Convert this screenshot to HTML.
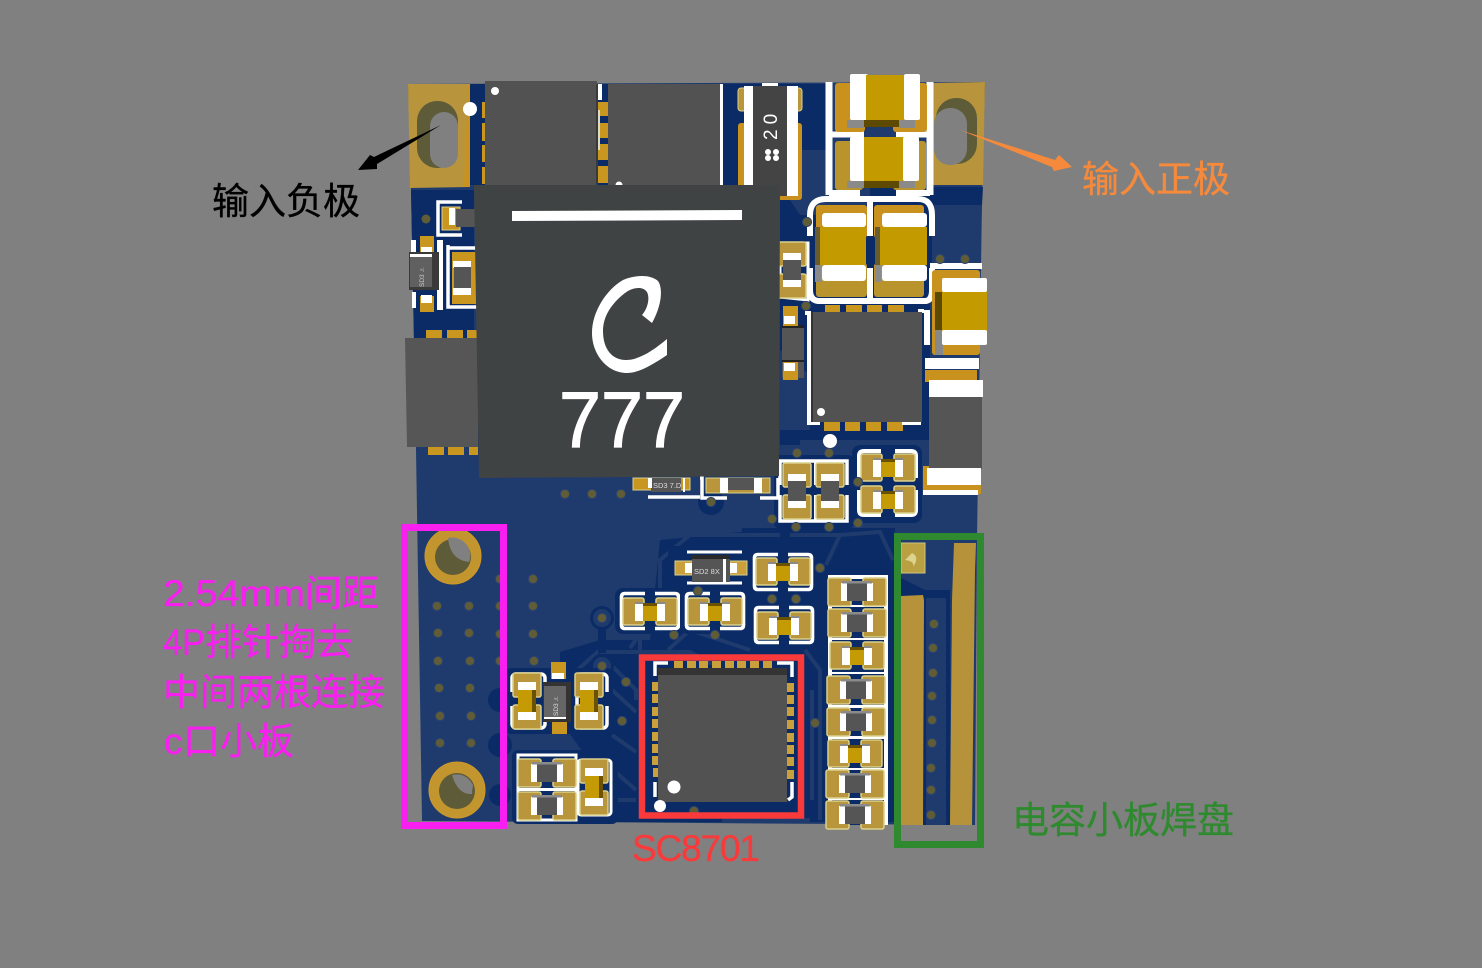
<!DOCTYPE html>
<html><head><meta charset="utf-8"><title>PCB</title>
<style>html,body{margin:0;padding:0;background:#808080}svg{display:block}
.t{font-family:"Liberation Sans","Noto Sans CJK SC",sans-serif;font-size:37px;stroke-width:.35px}</style></head>
<body>
<svg width="1482" height="968" viewBox="0 0 1482 968" xmlns="http://www.w3.org/2000/svg">
<defs>
<g id="rh"><rect x="-29" y="-14" width="23" height="28" rx="2" fill="#b9963c" stroke="#d9d08c" stroke-width="1.5"/><rect x="6" y="-14" width="23" height="28" rx="2" fill="#b9963c" stroke="#d9d08c" stroke-width="1.5"/><rect x="-16" y="-9" width="6" height="18" fill="#fff"/><rect x="10" y="-9" width="6" height="18" fill="#fff"/><rect x="-10" y="-9" width="20" height="18" fill="#555"/><rect x="-15" y="-11" width="30" height="2.5" fill="#8a8a8a"/></g>
<g id="ch"><rect x="-27" y="-14" width="21" height="27" rx="2" fill="#b9963c" stroke="#d9d08c" stroke-width="1.5"/><rect x="6" y="-14" width="21" height="27" rx="2" fill="#b9963c" stroke="#d9d08c" stroke-width="1.5"/><rect x="-15" y="-8" width="8" height="17" fill="#fff"/><rect x="7" y="-8" width="8" height="17" fill="#fff"/><rect x="-15" y="-10" width="8" height="2" fill="#8a8a8a"/><rect x="7" y="-10" width="8" height="2" fill="#8a8a8a"/><rect x="-7" y="-9" width="14" height="18" fill="#c49a05"/><rect x="-7" y="-9" width="14" height="3" fill="#6b5200"/></g>
<g id="cv"><rect x="-14" y="-28" width="28" height="24" rx="2" fill="#b9963c" stroke="#d9d08c" stroke-width="1.5"/><rect x="-14" y="4" width="28" height="24" rx="2" fill="#b9963c" stroke="#d9d08c" stroke-width="1.5"/><rect x="-9" y="-19" width="18" height="8" fill="#fff"/><rect x="-9" y="11" width="18" height="8" fill="#fff"/><rect x="-9" y="-11" width="18" height="22" fill="#c49a05"/><rect x="5" y="-11" width="4" height="22" fill="#6b5200"/></g>
<g id="rv"><rect x="-14" y="-28" width="28" height="24" rx="2" fill="#b9963c" stroke="#d9d08c" stroke-width="1.5"/><rect x="-14" y="4" width="28" height="24" rx="2" fill="#b9963c" stroke="#d9d08c" stroke-width="1.5"/><rect x="-9" y="-17" width="18" height="7" fill="#fff"/><rect x="-9" y="10" width="18" height="7" fill="#fff"/><rect x="-9" y="-10" width="18" height="20" fill="#555"/></g>
<!-- bracket outline for small horizontal caps -->
<g id="ol"><rect x="-35" y="-23" width="70" height="46" rx="8" fill="#0b2b66"/><path d="M-5,-17.5 H-25 Q-28.5,-17.5 -28.5,-14 V14 Q-28.5,17.5 -25,17.5 H-5 M5,-17.5 H25 Q28.5,-17.5 28.5,-14 V14 Q28.5,17.5 25,17.5 H5" fill="none" stroke="#fff" stroke-width="3.6"/></g>
<circle id="v" r="4.6" fill="#5f5c36" stroke="#2b4373" stroke-width="1"/>
</defs>
<rect width="1482" height="968" fill="#808080"/>

<!-- board -->
<polygon points="408,84 985,82 982,200 977,540 975,825 422,821 416,450 411,190" fill="#1f3b6d"/>
<!-- darker copper gaps -->
<g fill="#0b2b66">
<polygon points="470,84 830,84 830,150 800,150 800,185 470,185"/>
<polygon points="780,185 932,185 932,300 780,300"/>
<polygon points="932,187 983,187 982,205 932,205"/>
<polygon points="780,300 930,300 930,445 780,445"/>
<polygon points="411,190 474,190 474,340 414,340"/>
<polygon points="560,652 600,640 760,640 826,640 826,822 610,822 610,790 560,720"/>
<polygon points="742,528 895,528 895,822 820,822 820,640 742,640"/>
<polygon points="660,540 780,528 780,560 750,640 650,640"/>
<polygon points="895,575 925,590 950,585 950,825 895,825"/>
<polygon points="925,533 975,533 975,590 925,590" fill="#1f3b6d"/>
</g>
<polygon points="780,185 870,185 870,215 800,215" fill="#1f3b6d"/>
<polygon points="932,205 982,205 980,255 932,255" fill="#1f3b6d"/>
<polygon points="780,350 810,375 810,430 780,430" fill="#1f3b6d"/>
<polygon points="800,440 940,440 930,470 800,470" fill="#1f3b6d"/>
<rect x="926" y="598" width="20" height="227" fill="#1f3b6d"/>
<!-- light traces in the dark areas -->
<g fill="none" stroke="#1f3b6d" stroke-width="4">
<path d="M600,652 H690 L712,664 M575,672 L600,650 M610,664 L636,690 V700 M612,690 L636,712 M612,735 L636,752 M596,755 L636,790"/>
<path d="M640,650 V640 L660,620 V560 L690,535 H780 M630,648 L650,620 M668,650 L690,630 L750,650"/>
<path d="M805,650 L820,670 V820 M812,690 V800 M722,820 H810 M600,800 H636"/>
<path d="M840,535 L880,532 L893,560 M790,535 H840 L826,565"/>
</g>
<g fill="#0b2b66"><circle cx="602" cy="618" r="12"/><circle cx="602" cy="666" r="12"/><circle cx="711" cy="502" r="13"/><rect x="598" y="625" width="8" height="28"/><circle cx="500" cy="700" r="12"/><circle cx="500" cy="745" r="12"/><circle cx="500" cy="795" r="11"/></g>
<circle cx="602" cy="618" r="9" fill="#1f3b6d"/><circle cx="602" cy="666" r="9" fill="#1f3b6d"/>

<!-- top left pad -->
<polygon points="408,84 470,84 470,187 410,188" fill="#b8953c"/>
<path d="M468,84 H470 V187 H464 Z" fill="#c9921f"/>
<rect x="417" y="101" width="41" height="67" rx="20" fill="#5e5b38"/>
<rect x="430" y="112" width="28" height="56" rx="14" fill="#808080"/>
<circle cx="470" cy="109" r="7" fill="#fff"/>
<!-- top right pad -->
<polygon points="933,83 985,82 983,185 933,185" fill="#b8953c"/>
<rect x="936" y="98" width="41" height="66" rx="20" fill="#5e5b38"/>
<rect x="934" y="108" width="33" height="57" rx="16" fill="#808080"/>

<!-- chips A,B -->
<g fill="#c9961f"><rect x="482" y="102" width="4" height="16"/><rect x="482" y="123" width="4" height="18"/><rect x="482" y="145" width="4" height="17"/><rect x="482" y="167" width="4" height="17"/>
<rect x="598" y="102" width="10" height="14"/><rect x="598" y="123" width="10" height="15"/><rect x="598" y="144" width="10" height="16"/><rect x="598" y="166" width="10" height="17"/></g>
<rect x="598" y="84" width="4" height="16" fill="#fff"/><rect x="598" y="110" width="2" height="40" fill="#dcdcc0"/>
<rect x="485" y="81" width="112" height="104" fill="#525252"/>
<rect x="596" y="85" width="2" height="100" fill="#3a3a3a"/>
<circle cx="495" cy="91" r="4" fill="#fff"/>
<rect x="608" y="84" width="112" height="101" fill="#525252"/>
<rect x="720" y="84" width="3" height="101" fill="#fff"/>
<circle cx="619" cy="185" r="3.5" fill="#fff"/>

<!-- "20" part -->
<rect x="738" y="88" width="64" height="23" rx="3" fill="#b9963c" stroke="#d9d08c"/>
<rect x="738" y="123" width="64" height="77" rx="3" fill="#c9921f"/>
<rect x="744" y="86" width="9" height="100" fill="#fff"/>
<rect x="787" y="86" width="11" height="110" fill="#fff"/>
<rect x="762" y="83" width="16" height="4" fill="#fff"/>
<rect x="753" y="86" width="34" height="110" fill="#444"/>
<text transform="translate(777,140) rotate(-90)" font-family="Liberation Sans" font-size="19" fill="#fff" letter-spacing="5">20</text>
<circle cx="768" cy="152" r="3" fill="#fff"/><circle cx="776" cy="152" r="3" fill="#fff"/><circle cx="768" cy="158" r="3" fill="#fff"/><circle cx="776" cy="158" r="3" fill="#fff"/>

<!-- top caps -->
<path d="M829,82 V195 M930,82 V195" stroke="#fff" stroke-width="7" fill="none"/>
<path d="M829,134.500 H864 M896,134.500 H930 M829,193 H860 M896,193 H930" stroke="#fff" stroke-width="6" fill="none"/>
<g fill="#c9921f"><rect x="835" y="83" width="30" height="49" rx="3"/><rect x="893" y="83" width="34" height="49" rx="3"/></g>
<g fill="#b9932c"><rect x="835" y="141" width="28" height="49" rx="3"/><rect x="893" y="141" width="33" height="49" rx="3"/></g>
<rect x="864" y="120" width="36" height="7" fill="#5d4900"/>
<rect x="864" y="181" width="38" height="7" fill="#5d4900"/>
<g fill="#8a8a8a"><rect x="847" y="120" width="17" height="8"/><rect x="899" y="120" width="16" height="8"/><rect x="847" y="181" width="17" height="7"/><rect x="899" y="181" width="16" height="7"/></g>
<rect x="850" y="74" width="18" height="46" rx="2" fill="#fff"/><rect x="904" y="74" width="16" height="46" rx="2" fill="#fff"/><rect x="866" y="75" width="38" height="45" fill="#c39a00"/>
<rect x="850" y="137" width="16" height="44" rx="2" fill="#fff"/><rect x="903" y="137" width="16" height="44" rx="2" fill="#fff"/><rect x="864" y="137" width="39" height="44" fill="#c39a00"/>
<!-- middle caps -->
<path d="M810,236 V215 Q810,199 826,199 H918 Q932,199 932,215 V236" fill="none" stroke="#fff" stroke-width="6"/>
<path d="M810,268 V290 Q810,300 818,301 H926 Q932,300 932,290 V268 M870,200 V236 M870,268 V300" fill="none" stroke="#fff" stroke-width="6"/>
<g fill="#c9921f"><rect x="816" y="205" width="51" height="33" rx="3"/><rect x="874" y="205" width="50" height="33" rx="3"/></g>
<g fill="#b9932c"><rect x="816" y="263" width="51" height="34" rx="3"/><rect x="874" y="263" width="50" height="34" rx="3"/></g>
<rect x="819" y="227" width="47" height="38" fill="#c39a00"/><rect x="878" y="227" width="49" height="38" fill="#c39a00"/>
<rect x="815" y="227" width="5" height="55" fill="#665c30"/><rect x="875" y="227" width="5" height="55" fill="#665c30"/>
<rect x="815" y="265" width="6" height="17" fill="#8a8a8a"/><rect x="875" y="265" width="6" height="17" fill="#8a8a8a"/>
<rect x="822" y="213" width="44" height="14" rx="3" fill="#fff"/><rect x="822" y="265" width="44" height="16" rx="3" fill="#fff"/>
<rect x="882" y="213" width="45" height="14" rx="3" fill="#fff"/><rect x="882" y="265" width="45" height="16" rx="3" fill="#fff"/>
<!-- right cap -->
<rect x="930" y="263" width="52" height="6" fill="#fff"/>
<path d="M927,310 V345" stroke="#fff" stroke-width="6"/>
<rect x="932" y="270" width="48" height="85" rx="3" fill="#c9921f"/>
<rect x="935" y="292" width="8" height="38" fill="#5d4900"/><rect x="935" y="330" width="8" height="25" fill="#888"/>
<rect x="942" y="290" width="45" height="42" fill="#c39a00"/>
<rect x="942" y="278" width="45" height="14" rx="2" fill="#fff"/><rect x="942" y="330" width="45" height="15" rx="2" fill="#fff"/>
<rect x="925" y="358" width="54" height="11" fill="#fff"/>
<rect x="925" y="370" width="52" height="12" fill="#c9921f"/>
<!-- lower right chip -->
<rect x="923" y="466" width="58" height="28" fill="#c9921f"/><rect x="923" y="490" width="55" height="5" fill="#fff"/>
<rect x="929" y="380" width="54" height="17" fill="#fff"/>
<rect x="929" y="397" width="53" height="72" fill="#555"/>
<rect x="927" y="468" width="54" height="17" fill="#fff"/>

<!-- mid right chip -->
<g fill="#c9961f"><rect x="825" y="305" width="15" height="8"/><rect x="846" y="305" width="16" height="8"/><rect x="867" y="305" width="15" height="8"/><rect x="888" y="305" width="16" height="8"/><rect x="824" y="422" width="16" height="9"/><rect x="845" y="422" width="15" height="9"/><rect x="866" y="422" width="15" height="9"/><rect x="887" y="422" width="16" height="9"/></g>
<path d="M805,313 H809 V423 H820 M902,423 H921 M918,311 H924" fill="none" stroke="#fff" stroke-width="4"/>
<rect x="924" y="326" width="7" height="35" rx="3" fill="#fff" opacity="0"/>
<rect x="811" y="312" width="111" height="110" fill="#525252"/><rect x="811" y="312" width="2" height="110" fill="#333"/>
<circle cx="821" cy="412" r="4" fill="#fff"/>
<circle cx="830" cy="441" r="7" fill="#fff"/>
<!-- vertical part beside inductor -->
<path d="M780,297 V243 H808 V300 Z" fill="none" stroke="#fff" stroke-width="3"/>
<use href="#rv" x="792" y="270"/>
<rect x="782" y="326" width="22" height="52" fill="#555"/><rect x="782" y="325" width="22" height="3" fill="#222"/><rect x="782" y="360" width="22" height="2" fill="#222"/>
<rect x="783" y="306" width="15" height="20" fill="#c9961f"/><rect x="784" y="316" width="11" height="8" fill="#fff"/>
<rect x="783" y="362" width="15" height="18" fill="#c9961f"/><rect x="784" y="363" width="11" height="8" fill="#fff"/>

<!-- caps under inductor right -->
<rect x="774" y="455" width="80" height="74" fill="#0b2b66" rx="6"/>
<rect x="780" y="461" width="67" height="60" fill="none" stroke="#fff" stroke-width="3.5"/>
<rect x="814" y="461" width="3" height="60" fill="#fff"/>
<rect x="777" y="485" width="72" height="10" fill="#0b2b66"/>
<use href="#rv" x="797" y="491"/><use href="#rv" x="830" y="491"/>
<rect x="852" y="445" width="70" height="78" rx="8" fill="#0b2b66"/>
<path d="M859,478 V456 Q859,451 864,451 H881 M895,451 H911 Q916,451 916,456 V478 M859,490 V510 Q859,515 864,515 H881 M895,515 H911 Q916,515 916,510 V490" fill="none" stroke="#fff" stroke-width="4"/>
<use href="#ch" x="888" y="468"/>
<use href="#ch" x="888" y="500"/>
<path d="M700,478 H702 V498 H727 M760,498 H778 V478" fill="none" stroke="#fff" stroke-width="3.5"/>
<rect x="706" y="478" width="64" height="15" fill="#b9963c" stroke="#d9d08c"/>
<rect x="720" y="478" width="8" height="15" fill="#fff"/><rect x="728" y="478" width="26" height="12" fill="#555"/><rect x="754" y="478" width="8" height="15" fill="#fff"/>
<path d="M648,497 H700" stroke="#fff" stroke-width="3.5"/>
<rect x="633" y="478" width="57" height="12" fill="#c9961f" stroke="#d9d08c"/><rect x="651" y="478" width="30" height="14" fill="#555"/><rect x="683" y="478" width="2" height="14" fill="#fff"/><rect x="648" y="478" width="4" height="10" fill="#fff"/>
<text x="653" y="488" font-family="Liberation Sans" font-size="7.5" fill="#ddd">SD3 7.D</text>

<!-- left parts -->
<path d="M462,202 H438 V235 H462" fill="none" stroke="#fff" stroke-width="3.5"/>
<rect x="442" y="207" width="18" height="23" fill="#c9961f" stroke="#d9d08c"/><rect x="449" y="208" width="6" height="17" fill="#fff"/>
<rect x="456" y="209" width="20" height="18" fill="#555"/>
<circle cx="426" cy="219" r="4.5" fill="#5f5c36"/>
<rect x="420" y="236" width="14" height="16" fill="#c9961f"/>
<rect x="420" y="296" width="14" height="16" fill="#c9961f"/><rect x="421" y="295" width="11" height="8" fill="#fff"/>
<rect x="421" y="247" width="11" height="6" fill="#fff"/>
<rect x="411" y="240" width="5" height="18" fill="#fff"/><rect x="437" y="240" width="6" height="70" fill="#fff"/><rect x="412" y="292" width="4" height="16" fill="#fff"/>
<rect x="409" y="252" width="30" height="38" fill="#3a3a3a"/><rect x="410" y="257" width="22" height="30" fill="#606060"/><rect x="410" y="254" width="22" height="3" fill="#fff"/>
<text transform="translate(424,287) rotate(-90)" font-family="Liberation Sans" font-size="6.5" fill="#ccc">SD3 .r.</text>
<path d="M448,245 V307 H478 M448,248 H478" fill="none" stroke="#fff" stroke-width="3.5"/>
<rect x="452" y="252" width="24" height="52" fill="#c9961f"/>
<rect x="453" y="261" width="18" height="7" fill="#fff"/><rect x="453" y="288" width="18" height="7" fill="#fff"/><rect x="454" y="267" width="17" height="21" fill="#555"/>
<!-- left chip -->
<g fill="#c9961f"><rect x="426" y="330" width="16" height="9"/><rect x="447" y="330" width="16" height="9"/><rect x="467" y="330" width="11" height="9"/><rect x="428" y="447" width="16" height="8"/><rect x="448" y="447" width="16" height="8"/><rect x="469" y="447" width="9" height="8"/></g>
<polygon points="405,338 478,338 478,447 407,447" fill="#565656"/>

<!-- big inductor -->
<polygon points="474,185 780,185 779,476 479,478" fill="#404343"/>
<polygon points="512,211 742,210 742,220 512,221" fill="#fff"/>
<path d="M652,323 L642,315 C648,308 650,298 647,292 C643,286 633,287 625,293 C612,303 603,316 603,331 C603,349 612,360 626,360 C640,360 655,349 667,339 L667,355 C655,363 640,373 627,373 C607,373 592,354 592,333 C592,312 606,290 623,280 C635,275 650,274 658,281 C663,288 662,305 652,323 Z" fill="#fff"/>
<text x="559" y="447" textLength="126" lengthAdjust="spacingAndGlyphs" font-family="Liberation Sans" font-size="79" fill="#fff" stroke="#fff" stroke-width="1.2">777</text>

<!-- header holes -->
<circle cx="453" cy="556" r="28" fill="#c2952f" stroke="#d09a28"/>
<circle cx="453" cy="557" r="18" fill="#5e5b38"/>
<path d="M448,538 A18,18 0 0 1 469,562 Q450,560 448,538 Z" fill="#808080"/>
<circle cx="457" cy="790" r="28" fill="#c2952f" stroke="#d09a28"/>
<circle cx="457" cy="791" r="18" fill="#5e5b38"/>
<path d="M452,775 Q466,772 473,785 Q472,790 472,794 Q458,795 452,775 Z" fill="#808080"/>

<!-- mid parts -->
<rect x="505" y="668" width="108" height="66" rx="6" fill="#0b2b66"/>
<rect x="512" y="674" width="33" height="54" rx="4" fill="none" stroke="#fff" stroke-width="3.5"/>
<rect x="577" y="674" width="30" height="54" rx="4" fill="none" stroke="#fff" stroke-width="3.5"/>
<rect x="508" y="692" width="8" height="14" fill="#0b2b66"/><rect x="603" y="692" width="8" height="14" fill="#0b2b66"/>
<use href="#cv" x="527" y="701"/><use href="#cv" x="589" y="701"/>
<rect x="551" y="662" width="15" height="17" fill="#c9961f"/><rect x="552" y="673" width="12" height="6" fill="#fff"/>
<rect x="552" y="722" width="15" height="12" fill="#c9961f"/>
<rect x="543" y="682" width="28" height="40" fill="#333"/><rect x="544" y="686" width="22" height="32" fill="#666"/><rect x="544" y="717" width="22" height="2" fill="#fff"/>
<text transform="translate(558,716) rotate(-90)" font-family="Liberation Sans" font-size="6.5" fill="#ddd">SD3 .r.</text>
<rect x="512" y="750" width="106" height="74" rx="6" fill="#0b2b66"/>
<rect x="518" y="755" width="58" height="65" fill="none" stroke="#fff" stroke-width="3"/><rect x="519" y="788" width="56" height="3" fill="#fff"/>
<rect x="578" y="760" width="33" height="55" rx="3" fill="none" stroke="#fff" stroke-width="3"/>
<use href="#rh" x="547" y="773"/><use href="#rh" x="547" y="806"/><use href="#cv" x="594" y="787"/>
<!-- diode -->
<rect x="668" y="546" width="86" height="44" rx="6" fill="#0b2b66"/>
<path d="M687,552 H742 M687,583 H742" stroke="#fff" stroke-width="3"/>
<rect x="675" y="561" width="17" height="14" fill="#c9a03c" stroke="#d9d08c"/><rect x="730" y="561" width="17" height="14" fill="#c9a03c" stroke="#d9d08c"/><rect x="730" y="563" width="7" height="10" fill="#fff"/><rect x="685" y="563" width="7" height="10" fill="#fff"/>
<rect x="692" y="555" width="38" height="27" fill="#555"/><rect x="692" y="555" width="38" height="4" fill="#2a2a2a"/><rect x="723" y="559" width="3" height="23" fill="#fff"/>
<text x="694" y="574" font-family="Liberation Sans" font-size="7.5" fill="#ddd">SD2 8X</text>
<!-- small horizontal caps -->
<use href="#ol" x="650" y="611"/><use href="#ol" x="715" y="611"/><use href="#ol" x="783" y="572"/><use href="#ol" x="784" y="625"/>
<use href="#ch" x="650" y="612"/><use href="#ch" x="715" y="612"/><use href="#ch" x="783" y="572"/><use href="#ch" x="784" y="626"/>
<!-- column -->
<rect x="828" y="575" width="60" height="250" fill="#fff"/>
<rect x="832" y="579" width="52" height="246" fill="#0b2b66"/>
<rect x="829" y="605" width="57" height="2" fill="#fff"/><rect x="829" y="638" width="57" height="2" fill="#fff"/><rect x="828" y="672" width="58" height="2" fill="#fff"/><rect x="828" y="705" width="58" height="3" fill="#fff"/><rect x="828" y="736" width="58" height="3" fill="#fff"/><rect x="828" y="768" width="58" height="2" fill="#fff"/><rect x="828" y="798" width="58" height="2" fill="#fff"/>
<use href="#rh" x="857" y="592"/><use href="#rh" x="857" y="623"/><use href="#ch" x="857" y="656"/><use href="#rh" x="856" y="690"/><use href="#rh" x="856" y="722"/><use href="#ch" x="855" y="754"/><use href="#rh" x="855" y="784"/><use href="#rh" x="855" y="815"/>

<!-- QFN -->
<g fill="#c9a03c"><rect x="674" y="661" width="9" height="9"/><rect x="687" y="661" width="9" height="9"/><rect x="699" y="661" width="9" height="9"/><rect x="712" y="661" width="9" height="9"/><rect x="725" y="661" width="9" height="9"/><rect x="737" y="661" width="9" height="9"/><rect x="750" y="661" width="9" height="9"/><rect x="763" y="661" width="9" height="9"/>
<rect x="652" y="682" width="7" height="9"/><rect x="652" y="694" width="7" height="9"/><rect x="652" y="707" width="7" height="9"/><rect x="652" y="719" width="7" height="9"/><rect x="652" y="732" width="7" height="9"/><rect x="652" y="744" width="7" height="9"/><rect x="652" y="756" width="7" height="9"/><rect x="653" y="768" width="7" height="9"/>
<rect x="787" y="683" width="7" height="9"/><rect x="787" y="695" width="7" height="9"/><rect x="787" y="707" width="7" height="9"/><rect x="787" y="720" width="7" height="9"/><rect x="787" y="733" width="7" height="9"/><rect x="787" y="745" width="7" height="9"/><rect x="787" y="757" width="7" height="9"/><rect x="787" y="770" width="7" height="9"/></g>
<path d="M655,676 V663 H668 M777,663 H792 V677 M655,782 V797 M792,782 V797 L788,800" fill="none" stroke="#fff" stroke-width="3.5"/>
<rect x="658" y="668" width="129" height="134" fill="#525252"/>
<rect x="658" y="668" width="129" height="7" fill="#343434"/>
<circle cx="674" cy="787" r="6.5" fill="#fff"/><circle cx="660" cy="806" r="6" fill="#fff"/>

<!-- right strips -->
<rect x="901" y="543" width="24" height="30" fill="#b9a042" stroke="#cfc47d"/>
<path d="M912,553 Q920,557 913,567 Q915,561 905,560 Z" fill="#dcd38e"/>
<polygon points="901,596 923,595 924,600 923,825 901,825" fill="#b6933a"/>
<polygon points="954,543 976,543 975,570 972,825 950,825 952,600" fill="#b6933a"/>

<!-- vias -->
<g>
<use href="#v" x="437" y="606"/><use href="#v" x="469" y="606"/><use href="#v" x="500" y="606"/><use href="#v" x="533" y="606"/>
<use href="#v" x="438" y="633"/><use href="#v" x="469" y="633"/><use href="#v" x="500" y="634"/><use href="#v" x="533" y="634"/>
<use href="#v" x="438" y="661"/><use href="#v" x="470" y="661"/><use href="#v" x="500" y="661"/><use href="#v" x="534" y="661"/>
<use href="#v" x="439" y="688"/><use href="#v" x="470" y="688"/><use href="#v" x="440" y="716"/><use href="#v" x="471" y="716"/><use href="#v" x="440" y="743"/><use href="#v" x="471" y="743"/>
<use href="#v" x="500" y="579"/><use href="#v" x="533" y="579"/>
<use href="#v" x="602" y="618"/><use href="#v" x="602" y="666"/><use href="#v" x="626" y="682"/><use href="#v" x="622" y="721"/>
<use href="#v" x="698" y="591"/><use href="#v" x="772" y="599"/><use href="#v" x="796" y="599"/><use href="#v" x="674" y="635"/><use href="#v" x="715" y="635"/><use href="#v" x="820" y="568"/><use href="#v" x="815" y="723"/><use href="#v" x="694" y="811"/>
<use href="#v" x="565" y="494"/><use href="#v" x="592" y="494"/><use href="#v" x="621" y="494"/><use href="#v" x="711" y="502"/>
<use href="#v" x="797" y="453"/><use href="#v" x="829" y="453"/><use href="#v" x="858" y="482"/><use href="#v" x="772" y="519"/><use href="#v" x="796" y="527"/><use href="#v" x="829" y="527"/><use href="#v" x="858" y="523"/>
<use href="#v" x="807" y="222"/><use href="#v" x="940" y="259"/><use href="#v" x="965" y="259"/><use href="#v" x="806" y="306"/>
<use href="#v" x="934" y="624"/><use href="#v" x="933" y="648"/><use href="#v" x="933" y="673"/><use href="#v" x="932" y="696"/><use href="#v" x="932" y="720"/><use href="#v" x="932" y="743"/><use href="#v" x="931" y="768"/><use href="#v" x="931" y="790"/><use href="#v" x="931" y="815"/>
</g>

<!-- annotation boxes -->
<rect x="404.5" y="527.5" width="99" height="298" fill="none" stroke="#f81ff0" stroke-width="7"/>
<rect x="642" y="657.500" width="159" height="158" fill="none" stroke="#f93a3a" stroke-width="6.5"/>
<rect x="897.5" y="536.5" width="83" height="308" fill="none" stroke="#2f8a2f" stroke-width="7"/>

<!-- arrows -->
<polygon points="441,125 374,157 370,155 358,170 377,169 377,164" fill="#000"/>
<polygon points="960,130 1055,160 1059,155 1072,167 1054,171 1052,167" fill="#f58a3c"/>

<!-- labels -->
<text class="t" x="212" y="214" fill="#000" stroke="#000">输入负极</text>
<text class="t" x="1082" y="192" fill="#f58a3c" stroke="#f58a3c">输入正极</text>
<text class="t" x="163" y="606" textLength="142" lengthAdjust="spacingAndGlyphs" fill="#f81ff0" stroke="#f81ff0">2.54mm</text>
<text class="t" x="305" y="606" fill="#f81ff0" stroke="#f81ff0">间距</text>
<text class="t" x="163" y="655" textLength="42" lengthAdjust="spacingAndGlyphs" fill="#f81ff0" stroke="#f81ff0">4P</text>
<text class="t" x="205" y="655" fill="#f81ff0" stroke="#f81ff0">排针掏去</text>
<text class="t" x="163" y="705" fill="#f81ff0" stroke="#f81ff0">中间两根连接</text>
<text class="t" x="164" y="754" fill="#f81ff0" stroke="#f81ff0">c</text>
<text class="t" x="183" y="754" fill="#f81ff0" stroke="#f81ff0">口小板</text>
<text class="t" x="632" y="861" textLength="128" fill="#f93a3a" stroke="#f93a3a">SC8701</text>
<text class="t" x="1012" y="833" fill="#2f8a2f" stroke="#2f8a2f">电容小板焊盘</text>
</svg>
</body></html>
